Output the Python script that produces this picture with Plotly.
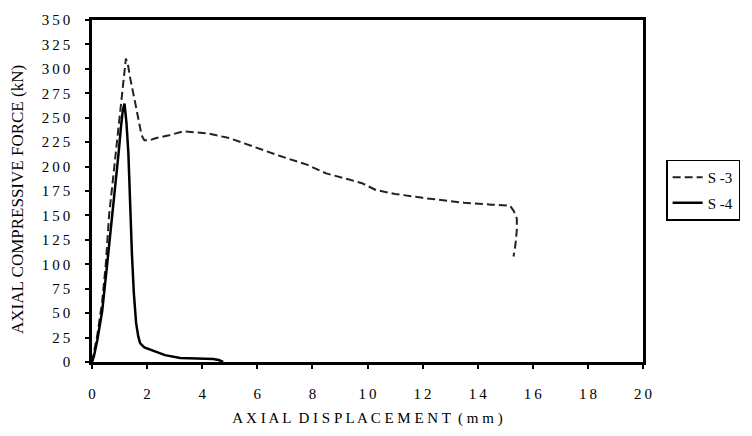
import plotly.graph_objects as go

# S-3 (dashed)
s3_x = [0, 0.07, 0.19, 0.37, 0.5, 0.62, 0.75, 0.88, 1.06, 1.15, 1.23, 1.3, 1.39, 1.57, 1.69, 1.8, 1.9, 2.1,
        2.3, 2.8, 3.3, 4.2, 5.0, 5.6, 6.8, 7.8, 8.5, 9.3, 9.8, 10.3, 11.0, 12.0, 12.6, 13.5, 14.5, 15.0,
        15.17, 15.3, 15.42, 15.42, 15.37, 15.3]
s3_y = [0, 10, 27, 62, 100, 150, 185, 215, 263, 292, 310.5, 305, 290, 265, 248, 232, 227, 227,
        229, 232, 236, 234, 229, 223, 211, 202, 193, 187, 183, 176, 172, 168, 166, 163, 161, 160.6,
        160, 155, 147, 135, 120, 108]

# S-4 (solid)
s4_x = [0, 0.07, 0.19, 0.37, 0.55, 0.7, 0.79, 0.9, 0.97, 1.06, 1.12, 1.18, 1.25, 1.32, 1.38, 1.45, 1.52,
        1.6, 1.68, 1.75, 1.9, 2.17, 2.65, 3.2, 4.4, 4.6, 4.76]
s4_y = [0, 6, 22, 52, 100, 140, 160, 195, 215, 243, 258, 264.5, 245, 214, 160, 110, 70,
        40, 26, 19, 15, 12, 7, 4, 3, 2, 0]

x_ticks = [0, 2, 4, 6, 8, 10, 12, 14, 16, 18, 20]
x_ticktext = ["0", "2", "4", "6", "8", "1\u20090", "1\u20092", "1\u20094", "1\u20096", "1\u20098", "2\u20090"]
y_ticks = [0, 25, 50, 75, 100, 125, 150, 175, 200, 225, 250, 275, 300, 325, 350]
y_ticktext = ["0", "2\u20095", "5\u20090", "7\u20095", "1\u20090\u20090", "1\u20092\u20095", "1\u20095\u20090",
              "1\u20097\u20095", "2\u20090\u20090", "2\u20092\u20095", "2\u20095\u20090", "2\u20097\u20095",
              "3\u20090\u20090", "3\u20092\u20095", "3\u20095\u20090"]

x_title = "A X I A L  D I S P L A C E M E N T  ( m m )"
y_title = "AXIAL COMPRESSIVE FORCE (kN)"

font = "Liberation Serif, Times New Roman, serif"

fig = go.Figure()
fig.add_trace(go.Scatter(x=s3_x, y=s3_y, mode="lines", name="S -3", legendgroup="a",
                         line=dict(color="#222222", width=2, dash="8px,4px")))
fig.add_trace(go.Scatter(x=s4_x, y=s4_y, mode="lines", name="S -4", legendgroup="b",
                         line=dict(color="black", width=2.5)))

fig.update_layout(
    width=752, height=436,
    margin=dict(l=91.5, r=106.5, t=17, b=74),
    paper_bgcolor="white", plot_bgcolor="white",
    font=dict(family=font, size=15, color="black"),
    showlegend=True,
    legend=dict(x=1.042, y=0.592, xanchor="left", yanchor="top",
                bordercolor="black", borderwidth=1.5, bgcolor="white",
                font=dict(family=font, size=15, color="black"),
                traceorder="grouped", tracegroupgap=3,
                itemwidth=30),
    annotations=[dict(text=y_title, textangle=-90, xref="paper", yref="paper",
                      x=-0.1354, y=0.475, xanchor="center", yanchor="middle",
                      showarrow=False, font=dict(family=font, size=17, color="black"))],
)
fig.update_xaxes(range=[0, 20], tickvals=x_ticks, ticktext=x_ticktext,
                 showgrid=False, zeroline=False,
                 showline=True, linecolor="black", linewidth=2.5, mirror=True,
                 ticks="outside", ticklen=4, tickwidth=2, tickcolor="black",
                 ticklabelstandoff=12, tickfont=dict(family=font, size=15, color="black"),
                 title=dict(text=x_title, font=dict(family=font, size=15, color="black"), standoff=12))
fig.update_yaxes(range=[0, 350], tickvals=y_ticks, ticktext=y_ticktext,
                 showgrid=False, zeroline=False,
                 showline=True, linecolor="black", linewidth=2.5, mirror=True,
                 ticks="outside", ticklen=4, tickwidth=2, tickcolor="black",
                 ticklabelstandoff=12, tickfont=dict(family=font, size=15, color="black"))

fig.write_html("out.html")
